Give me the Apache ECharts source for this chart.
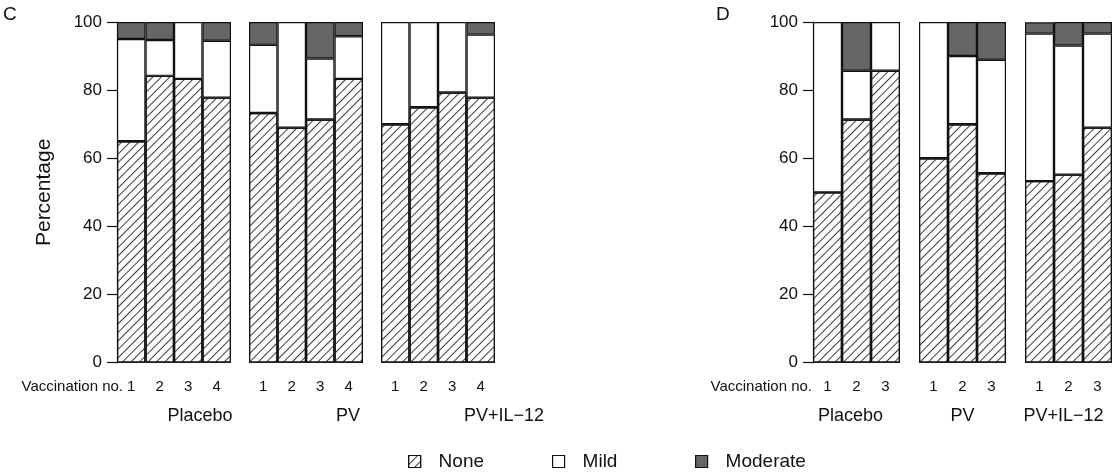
<!DOCTYPE html>
<html>
<head>
<meta charset="utf-8">
<script src="https://cdn.jsdelivr.net/npm/echarts@6/dist/echarts.min.js"></script>
<style>
html,body{margin:0;padding:0;background:#fff;}
#chart{width:1115px;height:473px;}
</style>
</head>
<body>
<div id="chart"></div>
<script>
// ---- Data ----
const groupNames = ['Placebo', 'PV', 'PV+IL\u221212'];
const vaccC = ['1', '2', '3', '4'];
const vaccD = ['1', '2', '3'];
const seriesNames = ['None', 'Mild', 'Moderate'];
const yTicks = [0, 20, 40, 60, 80, 100];

// Panel C (per group: values per vaccination)
const noneC = [[65.0, 84.2, 83.3, 77.8], [73.3, 69.0, 71.4, 83.3], [70.0, 75.0, 79.3, 77.8]];
const mildC = [[30.0, 10.5, 16.7, 16.7], [20.0, 31.0, 17.9, 12.5], [30.0, 25.0, 20.7, 18.5]];
const modC  = [[5.0, 5.3, 0, 5.5], [6.7, 0, 10.7, 4.2], [0, 0, 0, 3.7]];

// Panel D
const noneD = [[50.0, 71.4, 85.7], [60.0, 70.0, 55.6], [53.3, 55.2, 69.0]];
const mildD = [[50.0, 14.3, 14.3], [40.0, 20.0, 33.3], [43.3, 37.9, 27.6]];
const modD  = [[0, 14.3, 0], [0, 10.0, 11.1], [3.3, 6.9, 3.4]];

// ---- Layout ----
const FONT = 'Liberation Sans, Arial, Helvetica, sans-serif';
const gridTop = 22, gridBottom = 110.3;
const panels = [
  { cats: vaccC, none: noneC, mild: mildC, mod: modC, lefts: [117, 249, 381], width: 114, nameShift: [26, 42, 66] },
  { cats: vaccD, none: noneD, mild: mildD, mod: modD, lefts: [813, 919, 1025], width: 87, nameShift: [-6, 0, -5] }
];

const hatch = {
  symbol: 'rect', symbolSize: 1, color: '#3a3a3a',
  dashArrayX: [1, 0], dashArrayY: [1, 5], rotation: -Math.PI / 4
};
const border = { borderColor: '#111', borderWidth: 1.2 };
const styles = [
  Object.assign({ color: '#ffffff', decal: hatch }, border),
  Object.assign({ color: '#ffffff' }, border),
  Object.assign({ color: '#666666' }, border)
];

const grid = [], xAxis = [], yAxis = [], series = [];
let gi = 0;
panels.forEach((p) => {
  p.lefts.forEach((left, g) => {
    grid.push({ left: left, width: p.width, top: gridTop, bottom: gridBottom, containLabel: false });
    const first = g === 0;
    xAxis.push({
      type: 'category', gridIndex: gi, data: p.cats,
      axisLine: { show: false }, axisTick: { show: false },
      axisLabel: { fontSize: 15, color: '#111', margin: 17, fontFamily: FONT },
      name: groupNames[g], nameLocation: 'middle', nameGap: 44,
      nameTextStyle: { fontSize: 18, color: '#111', fontFamily: FONT,
        padding: p.nameShift[g] >= 0 ? [0, 0, 0, 2 * p.nameShift[g]] : [0, -2 * p.nameShift[g], 0, 0] }
    });
    yAxis.push({
      type: 'value', gridIndex: gi, min: 0, max: 100, interval: 20,
      show: first,
      splitLine: { show: false },
      axisLine: { show: first, lineStyle: { color: '#111', width: 1.2 } },
      axisTick: { show: first, length: 10, lineStyle: { color: '#111', width: 1.2 } },
      axisLabel: { show: first, fontSize: 17, color: '#111', margin: 15, fontFamily: FONT },
      name: (first && p === panels[0]) ? 'Percentage' : '',
      nameLocation: 'middle', nameGap: 62,
      nameTextStyle: { fontSize: 21, color: '#111', fontFamily: FONT }
    });
    const vals = [p.none[g], p.mild[g], p.mod[g]];
    seriesNames.forEach((sn, si) => {
      series.push({
        type: 'bar', name: sn, stack: 'g' + gi, xAxisIndex: gi, yAxisIndex: gi,
        data: vals[si].map(v => (v === 0 ? '-' : v)), barCategoryGap: '0%', barGap: '0%',
        itemStyle: styles[si], silent: true, animation: false,
        emphasis: { disabled: true }
      });
    });
    gi++;
  });
});

const legendPos = [403, 547, 690];
const legend = seriesNames.map((sn, i) => ({
  data: [{ name: sn, icon: 'rect' }], left: legendPos[i], top: 447,
  itemWidth: 12, itemHeight: 12, selectedMode: false,
  itemStyle: { borderWidth: 1.2, borderColor: '#111' },
  textStyle: { fontSize: 19, color: '#111', fontFamily: FONT, padding: [0, 0, 0, 13] }
}));

const chart = echarts.init(document.getElementById('chart'), null, { renderer: 'canvas' });
chart.setOption({
  backgroundColor: '#ffffff',
  animation: false,
  grid, xAxis, yAxis, series, legend,
  graphic: [
    { type: 'text', left: 3, top: 5, style: { text: 'C', fontSize: 19, fill: '#111', fontFamily: FONT } },
    { type: 'text', left: 716, top: 5, style: { text: 'D', fontSize: 19, fill: '#111', fontFamily: FONT } },
    { type: 'text', right: 1115 - 123, top: 379, style: { text: 'Vaccination no.', fontSize: 15, fill: '#111', fontFamily: FONT } },
    { type: 'text', right: 1115 - 812, top: 379, style: { text: 'Vaccination no.', fontSize: 15, fill: '#111', fontFamily: FONT } }
  ]
});
</script>
</body>
</html>
